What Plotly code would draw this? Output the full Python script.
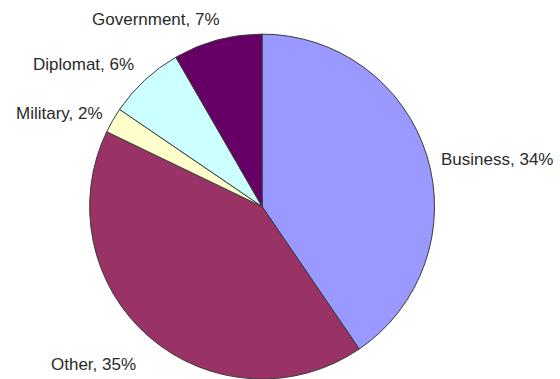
import plotly.graph_objects as go

# Share of respondents by occupation
categories = ["Business", "Other", "Military", "Diplomat", "Government"]
percentages = [34, 35, 2, 6, 7]
colors = ["#9999FF", "#993366", "#FFFFCC", "#CCFFFF", "#660066"]

# Label anchor points (paper coordinates) and alignment
label_pos = {
    "Business": (439 / 560, 1 - 159 / 379, "left"),
    "Other": (49 / 560, 1 - 364 / 379, "left"),
    "Military": (14 / 560, 1 - 113 / 379, "left"),
    "Diplomat": (31 / 560, 1 - 65 / 379, "left"),
    "Government": (90 / 560, 1 - 20 / 379, "left"),
}

fig = go.Figure(
    go.Pie(
        labels=categories,
        values=percentages,
        marker=dict(colors=colors, line=dict(color="#3a3a3a", width=1)),
        sort=False,
        direction="clockwise",
        rotation=0,
        textinfo="none",
        hoverinfo="label+value",
        domain=dict(x=[0.158, 0.778], y=[0.0, 0.91]),
        showlegend=False,
    )
)

annotations = []
for cat, pct in zip(categories, percentages):
    x, y, align = label_pos[cat]
    annotations.append(
        dict(
            x=x, y=y, xref="paper", yref="paper",
            text=f"{cat}, {pct}%",
            showarrow=False,
            xanchor=align, yanchor="middle",
            font=dict(family="Liberation Sans, Arial, sans-serif", size=17, color="#2a2a2a"),
        )
    )

fig.update_layout(
    width=560,
    height=379,
    margin=dict(l=0, r=0, t=0, b=0),
    paper_bgcolor="white",
    plot_bgcolor="white",
    annotations=annotations,
)

fig.write_html("out.html")
